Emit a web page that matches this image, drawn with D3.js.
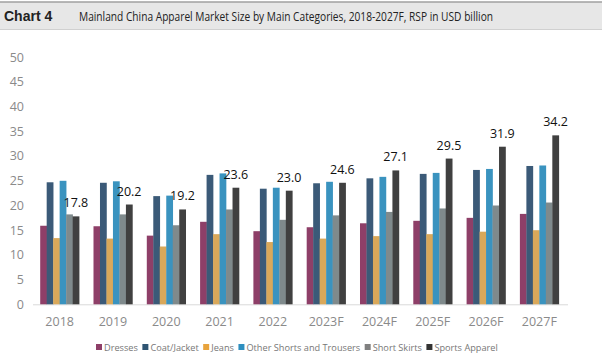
<!DOCTYPE html>
<html><head><meta charset="utf-8">
<script src="https://cdn.jsdelivr.net/npm/d3@7"></script>
<style>body{margin:0;background:#fff}svg{display:block}</style>
</head><body><svg id="c" width="602" height="358"></svg>
<script>
const categories = ["2018","2019","2020","2021","2022","2023F","2024F","2025F","2026F","2027F"];
const seriesNames = ["Dresses","Coat/Jacket","Jeans","Other Shorts and Trousers","Short Skirts","Sports Apparel"];
const dresses     = [15.9,15.8,13.9,16.7,14.8,15.6,16.4,16.9,17.5,18.3];
const coatJacket  = [24.7,24.6,21.9,26.2,23.4,24.5,25.5,26.4,27.2,28.0];
const jeans       = [13.4,13.3,11.7,14.2,12.6,13.3,13.8,14.2,14.7,15.0];
const otherShorts = [25.0,24.9,22.0,26.5,23.6,24.8,25.8,26.6,27.4,28.1];
const shortSkirts = [18.2,18.2,16.0,19.2,17.1,18.0,18.7,19.4,20.0,20.6];
const sports      = [17.8,20.2,19.2,23.6,23.0,24.6,27.1,29.5,31.9,34.2];
const yTicks = [0,5,10,15,20,25,30,35,40,45,50];
const colors = ["#8e3f68","#3b5a78","#d9a85a","#3a93bf","#7f8a8c","#404040"];
const legendColors = ["#8e3f68","#2f5573","#e8a33c","#2e8fbf","#808080","#333333"];
const allSeries = [dresses, coatJacket, jeans, otherShorts, shortSkirts, sports];

const svg = d3.select("#c");
// title band
svg.append("rect").attr("x",0).attr("y",2).attr("width",602).attr("height",27).attr("fill","#e7e7e7");
svg.append("line").attr("x1",0).attr("x2",602).attr("y1",2).attr("y2",2).attr("stroke","#a0a0a0").attr("stroke-width",1.5);
svg.append("line").attr("x1",0).attr("x2",602).attr("y1",29.5).attr("y2",29.5).attr("stroke","#d0d0d0").attr("stroke-width",1);
svg.append("text").attr("x",4).attr("y",21).attr("font-family","Liberation Sans, Arial, sans-serif")
  .attr("font-weight","bold").attr("font-size",14).attr("fill","#222").text("Chart 4");
svg.append("text").attr("x",79).attr("y",21).attr("font-family","Open Sans, sans-serif")
  .attr("font-size",12.5).attr("fill","#222").attr("textLength",414).attr("lengthAdjust","spacingAndGlyphs")
  .text("Mainland China Apparel Market Size by Main Categories, 2018-2027F, RSP in USD billion");

const x = d3.scaleBand().domain(categories).range([33,566]).paddingInner(0.27).paddingOuter(0.135);
const y = d3.scaleLinear().domain([0,50]).range([304.3,57.3]);
const xs = d3.scaleBand().domain(d3.range(6)).range([0,x.bandwidth()]);

const font = "Open Sans, sans-serif";
// y ticks
svg.append("g").selectAll("text").data(yTicks).join("text")
  .attr("x",24).attr("y",d=>y(d)).attr("dy","0.35em").attr("text-anchor","end")
  .attr("font-family",font).attr("font-size",12.5).attr("fill","#8a8a8a").text(d=>d);
// baseline
svg.append("line").attr("x1",33).attr("x2",568).attr("y1",y(0)+0.5).attr("y2",y(0)+0.5).attr("stroke","#d9d9d9");

// bars
const g = svg.append("g");
allSeries.forEach((vals,si)=>{
  g.selectAll(null).data(vals).join("rect")
    .attr("x",(d,i)=>x(categories[i])+xs(si))
    .attr("width",xs.bandwidth()+0.3)
    .attr("y",d=>y(d)).attr("height",d=>y(0)-y(d))
    .attr("fill",colors[si]);
});
// labels on sports
g.selectAll(null).data(sports).join("text")
  .attr("x",(d,i)=>x(categories[i])+xs(5)+xs.bandwidth()/2)
  .attr("y",d=>y(d)-9).attr("text-anchor","middle")
  .attr("font-family",font).attr("font-size",12.5).attr("fill","#111")
  .text(d=>d.toFixed(1));

// x labels
svg.append("g").selectAll("text").data(categories).join("text")
  .attr("x",d=>x(d)+x.bandwidth()/2).attr("y",321.7).attr("dy","0.35em").attr("text-anchor","middle")
  .attr("font-family",font).attr("font-size",12.5).attr("fill","#8a8a8a").text(d=>d);

// legend
const lg = svg.append("g");
let lx = 96;
seriesNames.forEach((n,i)=>{
  lg.append("rect").attr("x",lx).attr("y",344).attr("width",6).attr("height",6).attr("fill",legendColors[i]);
  const t = lg.append("text").attr("x",lx+8).attr("y",347.3).attr("dy","0.35em")
    .attr("font-family",font).attr("font-size",9.2).attr("fill","#777").text(n);
  lx += 8 + t.node().getComputedTextLength() + 4.5;
});
</script></body></html>
